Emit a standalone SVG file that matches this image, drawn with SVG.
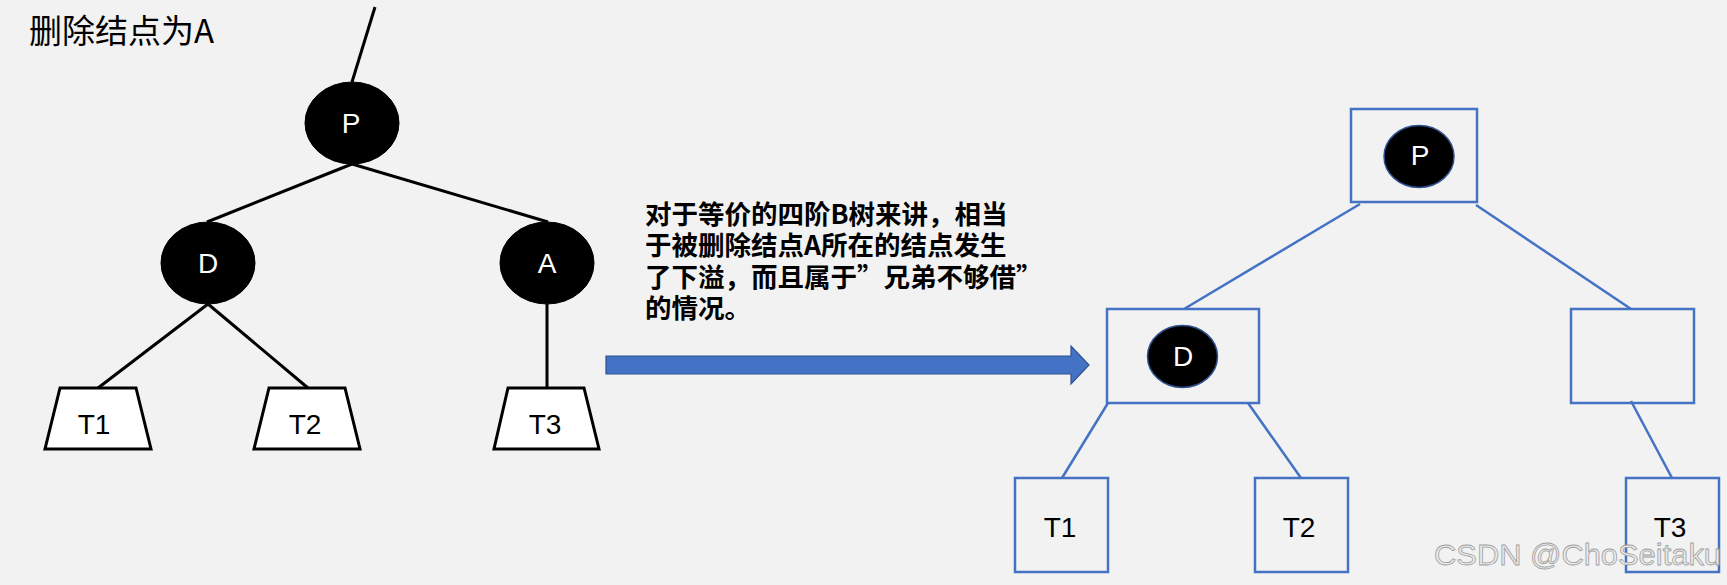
<svg xmlns="http://www.w3.org/2000/svg" width="1727" height="585" viewBox="0 0 1727 585">
<defs>
<style>
.bg{fill:#f2f2f2}
.edgeL{stroke:#000;stroke-width:3;fill:none}
.edgeR{stroke:#4472c4;stroke-width:2.5;fill:none}
.circL{fill:#000;stroke:#000;stroke-width:1}
.circR{fill:#000;stroke:#2f528f;stroke-width:1.5}
.trap{fill:#fff;stroke:#000;stroke-width:3;stroke-linejoin:miter}
.box{fill:none;stroke:#4472c4;stroke-width:2.5}
.lbl{font-family:"Liberation Sans",Arial,sans-serif;font-size:28px;text-anchor:middle}
.wl{fill:#fff}
.bl{fill:#000}
.title{font-family:"Noto Sans CJK SC","Liberation Sans",sans-serif;font-size:33px;fill:#000}
.note{font-family:"Noto Sans CJK SC","Liberation Sans",sans-serif;font-size:26.5px;font-weight:bold;fill:#000}
.wm{font-family:"Liberation Sans",Arial,sans-serif;font-size:30px;fill:#ececec;stroke:#a0a0a0;stroke-width:0.8}
</style>
</defs>
<rect class="bg" x="0" y="0" width="1727" height="585"/>

<text class="title" x="29" y="43">删除结点为A</text>

<g id="connectors">
<line class="edgeL" x1="375" y1="7" x2="352" y2="82"/>
<line class="edgeL" x1="352" y1="164" x2="207" y2="222"/>
<line class="edgeL" x1="352" y1="164" x2="548" y2="222"/>
<line class="edgeL" x1="208" y1="304" x2="98" y2="388"/>
<line class="edgeL" x1="208" y1="304" x2="308" y2="388"/>
<line class="edgeL" x1="547" y1="304" x2="547" y2="388"/>
<line class="edgeR" x1="1360" y1="204" x2="1184" y2="309"/>
<line class="edgeR" x1="1476" y1="205" x2="1631" y2="309"/>
<line class="edgeR" x1="1108" y1="403" x2="1062" y2="478"/>
<line class="edgeR" x1="1248" y1="403" x2="1301" y2="478"/>
<line class="edgeR" x1="1631" y1="401" x2="1672" y2="478"/>
<path id="bigArrow" d="M606,356 L1071,356 L1071,346 L1089,365 L1071,384 L1071,374 L606,374 Z" fill="#4472c4" stroke="#2f528f" stroke-width="1.2"/>
</g>

<g id="nodeP">
<ellipse class="circL" cx="352" cy="123" rx="47" ry="41"/>
<text class="lbl wl" x="351" y="133">P</text>
</g>
<g id="nodeD">
<ellipse class="circL" cx="208" cy="263" rx="47" ry="41"/>
<text class="lbl wl" x="208" y="273">D</text>
</g>
<g id="nodeA">
<ellipse class="circL" cx="547" cy="263" rx="47" ry="41"/>
<text class="lbl wl" x="547" y="273">A</text>
</g>
<g id="nodeT1">
<polygon class="trap" points="60,388 136,388 151,449 45,449"/>
<text class="lbl bl" x="94" y="434">T1</text>
</g>
<g id="nodeT2">
<polygon class="trap" points="269,388 345,388 360,449 254,449"/>
<text class="lbl bl" x="305" y="434">T2</text>
</g>
<g id="nodeT3">
<polygon class="trap" points="508,388 584,388 599,449 494,449"/>
<text class="lbl bl" x="545" y="434">T3</text>
</g>

<g id="note">
<text class="note" x="645" y="224">对于等价的四阶B树来讲，相当</text>
<text class="note" x="645" y="255">于被删除结点A所在的结点发生</text>
<text class="note" x="645" y="287">了下溢，而且属于”兄弟不够借”</text>
<text class="note" x="645" y="318">的情况。</text>
</g>

<g id="bP">
<rect class="box" x="1351" y="109" width="126" height="93"/>
<ellipse class="circR" cx="1419" cy="156.5" rx="35" ry="31"/>
<text class="lbl wl" x="1420" y="165">P</text>
</g>
<g id="bD">
<rect class="box" x="1107" y="309" width="152" height="94"/>
<ellipse class="circR" cx="1182.5" cy="356.5" rx="35" ry="31"/>
<text class="lbl wl" x="1183" y="366">D</text>
</g>
<g id="bEmpty">
<rect class="box" x="1571" y="309" width="123" height="94"/>
</g>
<g id="bT1">
<rect class="box" x="1015" y="478" width="93" height="94"/>
<text class="lbl bl" x="1060" y="537">T1</text>
</g>
<g id="bT2">
<rect class="box" x="1255" y="478" width="93" height="94"/>
<text class="lbl bl" x="1299" y="537">T2</text>
</g>
<g id="bT3">
<rect class="box" x="1626" y="478" width="93" height="94"/>
<text class="lbl bl" x="1670" y="537">T3</text>
</g>

<text class="wm" x="1434" y="565" textLength="287" lengthAdjust="spacingAndGlyphs">CSDN @ChoSeitaku</text>
</svg>
